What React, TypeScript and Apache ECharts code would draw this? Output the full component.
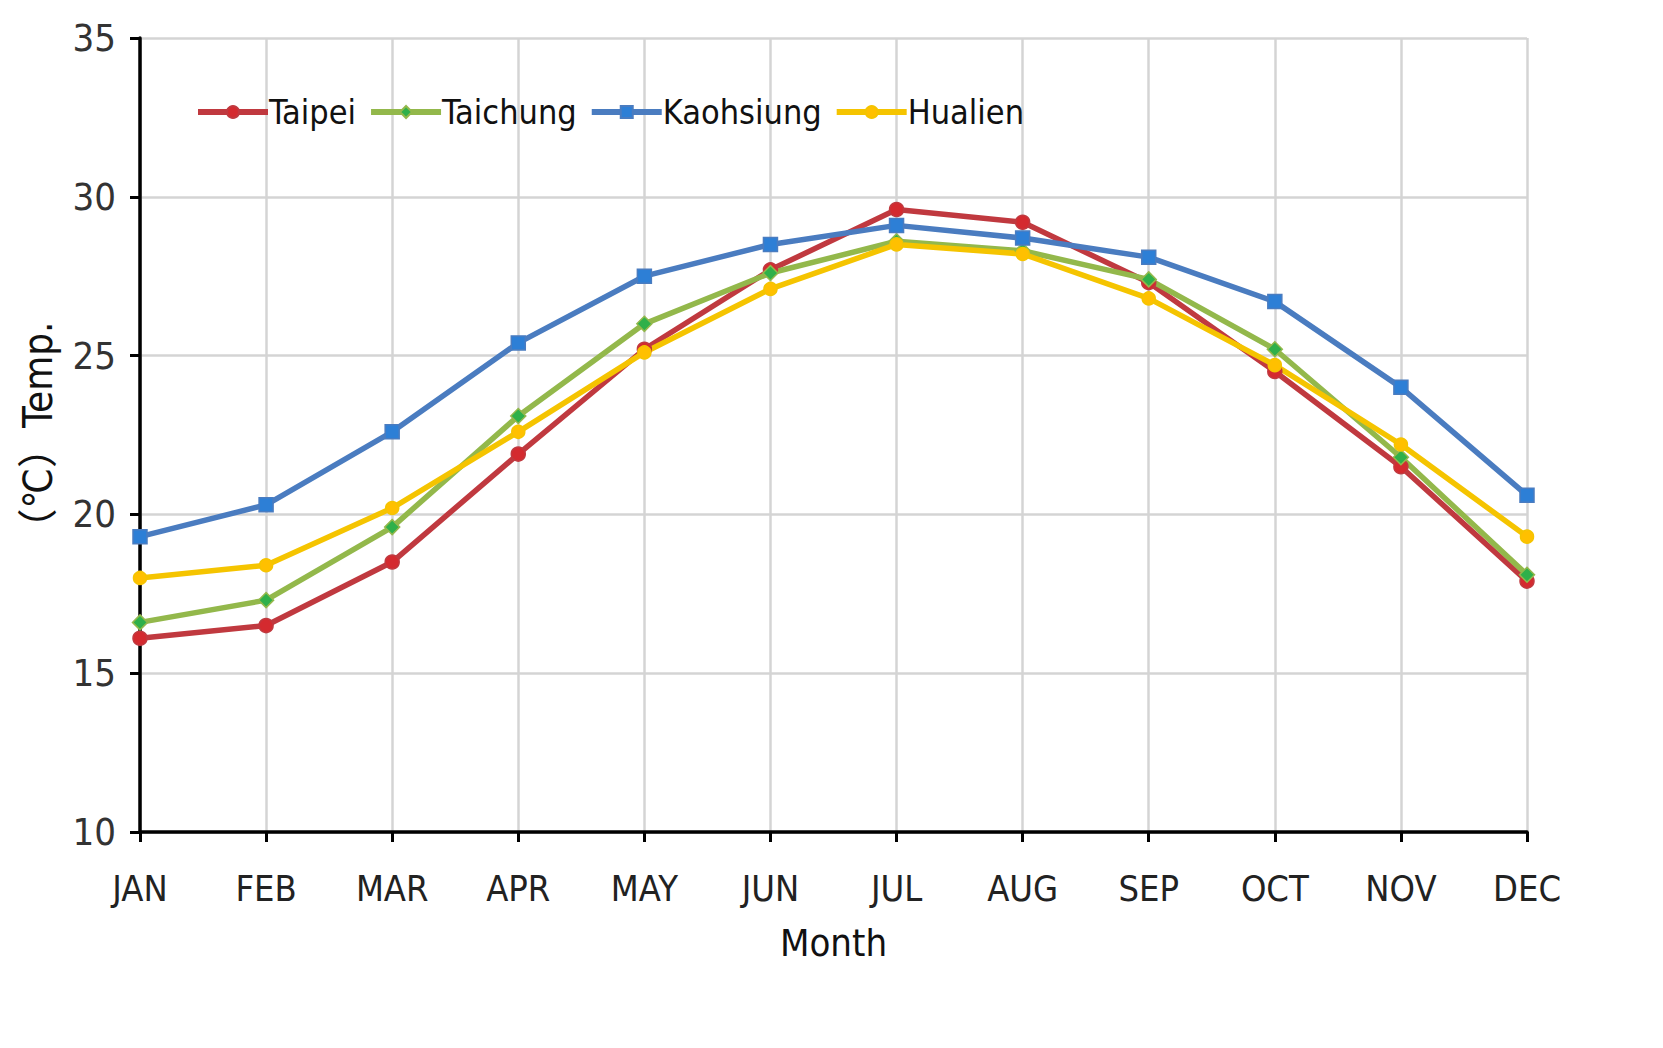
import React, { useEffect, useRef } from "react";
import * as echarts from "echarts";

const months = ["JAN", "FEB", "MAR", "APR", "MAY", "JUN", "JUL", "AUG", "SEP", "OCT", "NOV", "DEC"];
const taipei = [16.1, 16.5, 18.5, 21.9, 25.2, 27.7, 29.6, 29.2, 27.3, 24.5, 21.5, 17.9];
const taichung = [16.6, 17.3, 19.6, 23.1, 26.0, 27.6, 28.6, 28.3, 27.4, 25.2, 21.8, 18.1];
const kaohsiung = [19.3, 20.3, 22.6, 25.4, 27.5, 28.5, 29.1, 28.7, 28.1, 26.7, 24.0, 20.6];
const hualien = [18.0, 18.4, 20.2, 22.6, 25.1, 27.1, 28.5, 28.2, 26.8, 24.7, 22.2, 19.3];

const FONT = '"Liberation Sans Narrow", "DejaVu Sans Condensed", "Noto Sans CJK SC", sans-serif';

export default function App() {
  const ref = useRef<HTMLDivElement>(null);
  useEffect(() => {
    if (!ref.current) return;
    const chart = echarts.init(ref.current, null, { renderer: "svg" });
    const mk = (name: string, data: number[], line: string, mark: string, symbol: string, size: number) => ({
      name,
      type: "line",
      data,
      symbol,
      symbolSize: size,
      lineStyle: { color: line, width: 5.5 },
      itemStyle: { color: mark, borderColor: line, borderWidth: 1.5 },
    });
    chart.setOption({
      animation: false,
      backgroundColor: "#ffffff",
      grid: { left: 132, top: 30, right: 128, bottom: 208 },
      legend: {
        left: 182,
        top: 82,
        itemWidth: 70,
        itemHeight: 15,
        itemGap: 12,
        lineStyle: { width: 6 },
        textStyle: { fontFamily: FONT, fontSize: 34, color: "#111", padding: [0, 0, 0, -4] },
        data: ["Taipei", "Taichung", "Kaohsiung", "Hualien"],
      },
      xAxis: {
        type: "category",
        data: months,
        boundaryGap: false,
        name: "Month",
        nameLocation: "middle",
        nameGap: 92,
        nameTextStyle: { fontFamily: FONT, fontSize: 38, color: "#111" },
        axisLine: { lineStyle: { color: "#000", width: 3.5 } },
        axisTick: { show: true, length: 10, lineStyle: { color: "#000", width: 3 } },
        axisLabel: { fontFamily: FONT, fontSize: 36, color: "#222", margin: 38 },
        splitLine: { show: true, lineStyle: { color: "#d4d4d4", width: 2.5 } },
      },
      yAxis: {
        type: "value",
        min: 10,
        max: 35,
        interval: 5,
        name: "（℃）Temp.",
        nameLocation: "middle",
        nameRotate: 90,
        nameGap: 82,
        nameTextStyle: { fontFamily: FONT, fontSize: 40, color: "#111" },
        axisLine: { show: true, lineStyle: { color: "#000", width: 3.5 } },
        axisTick: { show: true, length: 10, lineStyle: { color: "#000", width: 3 } },
        axisLabel: { fontFamily: FONT, fontSize: 38, color: "#333", margin: 24 },
        splitLine: { show: true, lineStyle: { color: "#d4d4d4", width: 2.5 } },
      },
      series: [
        mk("Taipei", taipei, "#c0393f", "#d42a2f", "circle", 14),
        mk("Taichung", taichung, "#93b84b", "#2fb04a", "diamond", 15),
        mk("Kaohsiung", kaohsiung, "#4a7cc0", "#2d7fd6", "rect", 14),
        mk("Hualien", hualien, "#f5c400", "#ffc000", "circle", 13),
      ],
    });
    return () => chart.dispose();
  }, []);
  return <div ref={ref} style={{ width: 1647, height: 1032 }} />;
}
